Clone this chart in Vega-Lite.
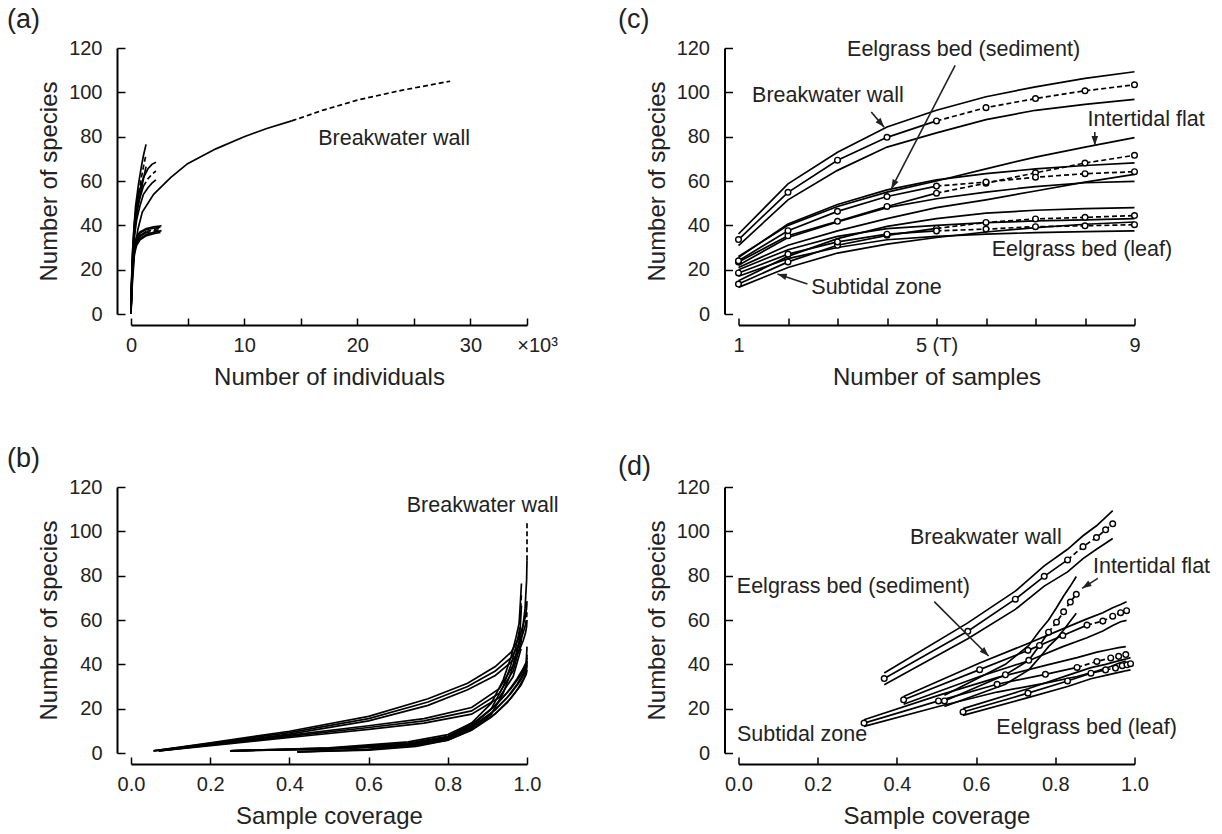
{
  "$schema": "https://vega.github.io/schema/vega-lite/v6.json",
  "padding": {"left": 7, "top": 6, "right": 5, "bottom": 5},
  "columns": 2,
  "bounds": "flush",
  "spacing": {"row": 173, "column": 211.5},
  "config": {
    "view": {"stroke": null},
    "font": "Liberation Sans",
    "axis": {"domainColor": "#000", "domainWidth": 2, "tickColor": "#000", "tickWidth": 1.5, "labelFont": "Liberation Sans", "labelFontSize": 20, "labelColor": "#222", "titleFont": "Liberation Sans", "titleFontSize": 24, "titleFontWeight": "normal", "titleColor": "#222", "grid": false, "labelFlush": false, "labelOverlap": false},
    "axisX": {"offset": 11, "labelPadding": 17, "titlePadding": 10, "tickSize": -7},
    "axisY": {"offset": 14, "labelPadding": 23, "titlePadding": 7, "tickSize": -8},
    "line": {"color": "#000", "strokeWidth": 1.7},
    "text": {"font": "Liberation Sans", "fontSize": 21.5, "color": "#222", "baseline": "middle", "align": "center"},
    "rule": {"color": "#222", "strokeWidth": 1.6},
    "title": {"font": "Liberation Sans", "fontSize": 27, "fontWeight": "normal", "color": "#222", "anchor": "start", "frame": "group", "offset": 4, "baseline": "alphabetic"}
  },
  "datasets": {
    "a": [
      {"h":"BW","e":0,"n":0,"m":0,"u":null,"l":null},
      {"h":"BW","e":0,"n":0.1,"m":12,"u":null,"l":null},
      {"h":"BW","e":0,"n":0.3,"m":27,"u":null,"l":null},
      {"h":"BW","e":0,"n":0.6,"m":38,"u":null,"l":null},
      {"h":"BW","e":0,"n":1.0,"m":46,"u":null,"l":null},
      {"h":"BW","e":0,"n":2.0,"m":54,"u":null,"l":null},
      {"h":"BW","e":0,"n":3.5,"m":61.5,"u":null,"l":null},
      {"h":"BW","e":0,"n":5.0,"m":67.8,"u":null,"l":null},
      {"h":"BW","e":0,"n":7.5,"m":74.5,"u":null,"l":null},
      {"h":"BW","e":0,"n":10,"m":80,"u":null,"l":null},
      {"h":"BW","e":0,"n":12,"m":83.7,"u":null,"l":null},
      {"h":"BW","e":0,"n":14.2,"m":87.1,"u":null,"l":null},
      {"h":"BW","e":1,"n":14.2,"m":87.1,"u":null,"l":null},
      {"h":"BW","e":1,"n":17,"m":92,"u":null,"l":null},
      {"h":"BW","e":1,"n":20,"m":96.5,"u":null,"l":null},
      {"h":"BW","e":1,"n":24,"m":101,"u":null,"l":null},
      {"h":"BW","e":1,"n":28.2,"m":105,"u":null,"l":null},
      {"h":"IF","e":0,"n":0,"m":0,"u":0,"l":0},
      {"h":"IF","e":0,"n":0.03,"m":8,"u":9,"l":7},
      {"h":"IF","e":0,"n":0.08,"m":17,"u":19,"l":15},
      {"h":"IF","e":0,"n":0.15,"m":26,"u":28.5,"l":23.5},
      {"h":"IF","e":0,"n":0.25,"m":35,"u":38,"l":32},
      {"h":"IF","e":0,"n":0.4,"m":45,"u":48.5,"l":41.5},
      {"h":"IF","e":0,"n":0.66,"m":54.5,"u":58.5,"l":50.5},
      {"h":"IF","e":1,"n":0.66,"m":54.5,"u":58.5,"l":50.5},
      {"h":"IF","e":1,"n":0.9,"m":61,"u":66,"l":56},
      {"h":"IF","e":1,"n":1.1,"m":66.5,"u":71.5,"l":61},
      {"h":"IF","e":1,"n":1.33,"m":72,"u":76.5,"l":66.5},
      {"h":"ES","e":0,"n":0,"m":0,"u":0,"l":0},
      {"h":"ES","e":0,"n":0.03,"m":9,"u":10,"l":8},
      {"h":"ES","e":0,"n":0.08,"m":18,"u":20,"l":16},
      {"h":"ES","e":0,"n":0.15,"m":27,"u":29.5,"l":24.5},
      {"h":"ES","e":0,"n":0.3,"m":38,"u":41,"l":35},
      {"h":"ES","e":0,"n":0.5,"m":46,"u":49.5,"l":42.5},
      {"h":"ES","e":0,"n":0.8,"m":52.5,"u":56.5,"l":49},
      {"h":"ES","e":0,"n":1.1,"m":57.7,"u":61.5,"l":54},
      {"h":"ES","e":1,"n":1.1,"m":57.7,"u":61.5,"l":54},
      {"h":"ES","e":1,"n":1.5,"m":61,"u":65.5,"l":57},
      {"h":"ES","e":1,"n":1.85,"m":63,"u":67.5,"l":59},
      {"h":"ES","e":1,"n":2.2,"m":64.5,"u":68.5,"l":60.5},
      {"h":"ST","e":0,"n":0,"m":0,"u":0,"l":0},
      {"h":"ST","e":0,"n":0.03,"m":8,"u":9,"l":7},
      {"h":"ST","e":0,"n":0.08,"m":16,"u":17.5,"l":14.5},
      {"h":"ST","e":0,"n":0.15,"m":23.5,"u":25,"l":22},
      {"h":"ST","e":0,"n":0.3,"m":30,"u":31.5,"l":28.5},
      {"h":"ST","e":0,"n":0.5,"m":33.5,"u":35,"l":32},
      {"h":"ST","e":0,"n":0.8,"m":35.5,"u":37,"l":34},
      {"h":"ST","e":0,"n":1.35,"m":37.2,"u":38.5,"l":35.8},
      {"h":"ST","e":1,"n":1.35,"m":37.2,"u":38.5,"l":35.8},
      {"h":"ST","e":1,"n":2.0,"m":38.1,"u":39.3,"l":36.8},
      {"h":"ST","e":1,"n":2.7,"m":38.8,"u":39.8,"l":37.6},
      {"h":"EL","e":0,"n":0,"m":0,"u":0,"l":0},
      {"h":"EL","e":0,"n":0.03,"m":7,"u":8,"l":6},
      {"h":"EL","e":0,"n":0.08,"m":14,"u":15.5,"l":12.5},
      {"h":"EL","e":0,"n":0.15,"m":21,"u":22.5,"l":19.5},
      {"h":"EL","e":0,"n":0.3,"m":28.5,"u":30,"l":27},
      {"h":"EL","e":0,"n":0.5,"m":32.5,"u":34,"l":31},
      {"h":"EL","e":0,"n":0.8,"m":35,"u":36.5,"l":33.5},
      {"h":"EL","e":0,"n":1.3,"m":36.6,"u":38,"l":35.2},
      {"h":"EL","e":1,"n":1.3,"m":36.6,"u":38,"l":35.2},
      {"h":"EL","e":1,"n":2.0,"m":37.4,"u":38.7,"l":36.2},
      {"h":"EL","e":1,"n":2.6,"m":38,"u":39.2,"l":36.8}
    ],
    "b": [
      {"h":"BW","e":0,"c":0.07,"m":1,"u":1,"l":1},
      {"h":"BW","e":0,"c":0.25,"m":4.5,"u":4.8,"l":4.2},
      {"h":"BW","e":0,"c":0.45,"m":8.5,"u":9.1,"l":7.9},
      {"h":"BW","e":0,"c":0.6,"m":11.5,"u":12.3,"l":10.7},
      {"h":"BW","e":0,"c":0.74,"m":14.5,"u":15.5,"l":13.5},
      {"h":"BW","e":0,"c":0.86,"m":19,"u":20.5,"l":17.5},
      {"h":"BW","e":0,"c":0.93,"m":27,"u":29,"l":25},
      {"h":"BW","e":0,"c":0.965,"m":37,"u":39.5,"l":34.5},
      {"h":"BW","e":0,"c":0.985,"m":50,"u":53,"l":47},
      {"h":"BW","e":0,"c":0.995,"m":65,"u":null,"l":null},
      {"h":"BW","e":0,"c":0.999,"m":78,"u":null,"l":null},
      {"h":"BW","e":0,"c":1.0,"m":87,"u":null,"l":null},
      {"h":"BW","e":1,"c":1.0,"m":87,"u":null,"l":null},
      {"h":"BW","e":1,"c":1.0,"m":105,"u":null,"l":null},
      {"h":"ES","e":0,"c":0.057,"m":1,"u":1,"l":1},
      {"h":"ES","e":0,"c":0.2,"m":4.3,"u":4.6,"l":4},
      {"h":"ES","e":0,"c":0.4,"m":9.2,"u":9.8,"l":8.5},
      {"h":"ES","e":0,"c":0.6,"m":15.5,"u":16.5,"l":14.5},
      {"h":"ES","e":0,"c":0.75,"m":23,"u":24.5,"l":21.5},
      {"h":"ES","e":0,"c":0.85,"m":30,"u":31.5,"l":28.5},
      {"h":"ES","e":0,"c":0.92,"m":37,"u":39,"l":35},
      {"h":"ES","e":0,"c":0.96,"m":43,"u":45.5,"l":41},
      {"h":"ES","e":0,"c":0.98,"m":49,"u":52,"l":46},
      {"h":"ES","e":0,"c":0.99,"m":54,"u":57.5,"l":50.5},
      {"h":"ES","e":0,"c":0.996,"m":57.7,"u":61.5,"l":54},
      {"h":"ES","e":1,"c":0.996,"m":57.7,"u":61.5,"l":54},
      {"h":"ES","e":1,"c":0.999,"m":61,"u":65.5,"l":57},
      {"h":"ES","e":1,"c":1.0,"m":64.2,"u":68.5,"l":60},
      {"h":"IF","e":0,"c":0.25,"m":1,"u":1,"l":1},
      {"h":"IF","e":0,"c":0.5,"m":2,"u":2.2,"l":1.8},
      {"h":"IF","e":0,"c":0.7,"m":3.5,"u":4,"l":3},
      {"h":"IF","e":0,"c":0.8,"m":6.5,"u":7.2,"l":5.8},
      {"h":"IF","e":0,"c":0.86,"m":12,"u":13.5,"l":10.5},
      {"h":"IF","e":0,"c":0.91,"m":20,"u":22.5,"l":17.5},
      {"h":"IF","e":0,"c":0.94,"m":30,"u":33,"l":27},
      {"h":"IF","e":0,"c":0.96,"m":40,"u":43.5,"l":36.5},
      {"h":"IF","e":0,"c":0.972,"m":48,"u":52,"l":44},
      {"h":"IF","e":0,"c":0.98,"m":54.5,"u":58.5,"l":50.5},
      {"h":"IF","e":1,"c":0.98,"m":54.5,"u":58.5,"l":50.5},
      {"h":"IF","e":1,"c":0.983,"m":62,"u":67,"l":57},
      {"h":"IF","e":1,"c":0.986,"m":72,"u":76.5,"l":66.5},
      {"h":"EL","e":0,"c":0.25,"m":1,"u":1,"l":1},
      {"h":"EL","e":0,"c":0.5,"m":2,"u":2.3,"l":1.7},
      {"h":"EL","e":0,"c":0.7,"m":4.5,"u":5,"l":4},
      {"h":"EL","e":0,"c":0.8,"m":7.5,"u":8.3,"l":6.7},
      {"h":"EL","e":0,"c":0.87,"m":13,"u":14.3,"l":11.7},
      {"h":"EL","e":0,"c":0.92,"m":19.5,"u":21.3,"l":17.7},
      {"h":"EL","e":0,"c":0.96,"m":27,"u":29.2,"l":24.8},
      {"h":"EL","e":0,"c":0.985,"m":33,"u":35.3,"l":30.7},
      {"h":"EL","e":0,"c":0.998,"m":37.5,"u":39.5,"l":35.5},
      {"h":"EL","e":1,"c":0.998,"m":37.5,"u":39.5,"l":35.5},
      {"h":"EL","e":1,"c":1.0,"m":40.3,"u":43,"l":37.5},
      {"h":"ST","e":0,"c":0.42,"m":0.5,"u":0.5,"l":0.5},
      {"h":"ST","e":0,"c":0.6,"m":1.5,"u":1.7,"l":1.3},
      {"h":"ST","e":0,"c":0.72,"m":3.5,"u":4,"l":3},
      {"h":"ST","e":0,"c":0.8,"m":6.5,"u":7.2,"l":5.8},
      {"h":"ST","e":0,"c":0.86,"m":11.5,"u":12.7,"l":10.3},
      {"h":"ST","e":0,"c":0.91,"m":18,"u":19.8,"l":16.2},
      {"h":"ST","e":0,"c":0.95,"m":25,"u":27.3,"l":22.7},
      {"h":"ST","e":0,"c":0.975,"m":31,"u":33.5,"l":28.5},
      {"h":"ST","e":0,"c":0.99,"m":35.5,"u":38,"l":33},
      {"h":"ST","e":0,"c":0.998,"m":38.6,"u":41,"l":36.2},
      {"h":"ST","e":1,"c":0.998,"m":38.6,"u":41,"l":36.2},
      {"h":"ST","e":1,"c":1.0,"m":44.4,"u":48,"l":41.5}
    ],
    "cd": [
      {"h":"BW","s":1,"cov":0.368,"m":33.6,"u":36.1,"l":30.8},
      {"h":"BW","s":2,"cov":0.579,"m":54.9,"u":58.7,"l":51.5},
      {"h":"BW","s":3,"cov":0.699,"m":69.4,"u":73.0,"l":64.8},
      {"h":"BW","s":4,"cov":0.772,"m":79.7,"u":84.4,"l":75.3},
      {"h":"BW","s":5,"cov":0.831,"m":87.1,"u":91.9,"l":81.7},
      {"h":"BW","s":6,"cov":0.870,"m":93.1,"u":98.0,"l":87.7},
      {"h":"BW","s":7,"cov":0.904,"m":97.2,"u":102.5,"l":91.9},
      {"h":"BW","s":8,"cov":0.927,"m":100.7,"u":106.3,"l":94.6},
      {"h":"BW","s":9,"cov":0.945,"m":103.4,"u":109.3,"l":96.8},
      {"h":"IF","s":1,"cov":0.520,"m":23.5,"u":26,"l":21},
      {"h":"IF","s":2,"cov":0.674,"m":35.3,"u":40,"l":31},
      {"h":"IF","s":3,"cov":0.733,"m":41.8,"u":48.5,"l":37.5},
      {"h":"IF","s":4,"cov":0.760,"m":48.5,"u":55,"l":43},
      {"h":"IF","s":5,"cov":0.783,"m":54.5,"u":60,"l":48},
      {"h":"IF","s":6,"cov":0.803,"m":59,"u":65.5,"l":51.5},
      {"h":"IF","s":7,"cov":0.821,"m":63.7,"u":70.8,"l":55.5},
      {"h":"IF","s":8,"cov":0.838,"m":68.1,"u":75.3,"l":59.5},
      {"h":"IF","s":9,"cov":0.853,"m":71.6,"u":79.6,"l":63},
      {"h":"ES","s":1,"cov":0.417,"m":24,"u":25.5,"l":22},
      {"h":"ES","s":2,"cov":0.609,"m":37.6,"u":40.6,"l":34.5},
      {"h":"ES","s":3,"cov":0.731,"m":46.3,"u":49.4,"l":41.5},
      {"h":"ES","s":4,"cov":0.819,"m":53,"u":56,"l":48},
      {"h":"ES","s":5,"cov":0.880,"m":57.7,"u":60.5,"l":52},
      {"h":"ES","s":6,"cov":0.920,"m":59.5,"u":63.3,"l":55},
      {"h":"ES","s":7,"cov":0.945,"m":61.7,"u":65.5,"l":57.5},
      {"h":"ES","s":8,"cov":0.965,"m":63.3,"u":67,"l":59.2},
      {"h":"ES","s":9,"cov":0.980,"m":64.2,"u":68.2,"l":59.8},
      {"h":"ST","s":1,"cov":0.317,"m":13.5,"u":15,"l":12},
      {"h":"ST","s":2,"cov":0.505,"m":23.5,"u":26,"l":21},
      {"h":"ST","s":3,"cov":0.653,"m":31,"u":34,"l":27.5},
      {"h":"ST","s":4,"cov":0.775,"m":35.5,"u":39.5,"l":31.5},
      {"h":"ST","s":5,"cov":0.855,"m":38.6,"u":43,"l":34.5},
      {"h":"ST","s":6,"cov":0.905,"m":41.3,"u":45.5,"l":37},
      {"h":"ST","s":7,"cov":0.940,"m":42.9,"u":46.8,"l":39},
      {"h":"ST","s":8,"cov":0.960,"m":43.6,"u":47.5,"l":40.5},
      {"h":"ST","s":9,"cov":0.978,"m":44.4,"u":48,"l":41.5},
      {"h":"EL","s":1,"cov":0.567,"m":18.5,"u":20,"l":17},
      {"h":"EL","s":2,"cov":0.731,"m":27,"u":29,"l":25},
      {"h":"EL","s":3,"cov":0.831,"m":32.5,"u":35,"l":30},
      {"h":"EL","s":4,"cov":0.890,"m":36,"u":38.5,"l":33.5},
      {"h":"EL","s":5,"cov":0.927,"m":37.5,"u":40,"l":35},
      {"h":"EL","s":6,"cov":0.952,"m":38.3,"u":41.2,"l":36},
      {"h":"EL","s":7,"cov":0.969,"m":39.4,"u":42,"l":36.7},
      {"h":"EL","s":8,"cov":0.981,"m":39.8,"u":42.5,"l":37.2},
      {"h":"EL","s":9,"cov":0.990,"m":40.3,"u":43,"l":37.5}
    ],
    "ta": [{"t":"Breakwater wall","x":23.25,"y":78.75}],
    "tb": [{"t":"Breakwater wall","x":0.888,"y":111.5}],
    "tc": [
      {"t":"Eelgrass bed (sediment)","x":5.547,"y":118.96},
      {"t":"Breakwater wall","x":2.808,"y":98.4},
      {"t":"Intertidal flat","x":9.234,"y":87.3},
      {"t":"Eelgrass bed (leaf)","x":7.938,"y":28.8},
      {"t":"Subtidal zone","x":3.787,"y":11.66}
    ],
    "td": [
      {"t":"Breakwater wall","x":0.6245,"y":97.0},
      {"t":"Intertidal flat","x":1.043,"y":84.1},
      {"t":"Eelgrass bed (sediment)","x":0.290,"y":74.7},
      {"t":"Subtidal zone","x":0.1605,"y":8.1},
      {"t":"Eelgrass bed (leaf)","x":0.879,"y":11.3}
    ],
    "arc": [
      {"id":"a1","x":3.682,"y":91.09,"x2":3.941,"y2":84.31},
      {"id":"a2","x":5.377,"y":112.2,"x2":4.087,"y2":56.48},
      {"id":"a3","x":8.198,"y":82.05,"x2":8.198,"y2":76.04},
      {"id":"a4","x":2.392,"y":13.55,"x2":1.787,"y2":18.07}
    ],
    "ard": [
      {"id":"a5","x":0.4943,"y":68.26,"x2":0.6316,"y2":43.76},
      {"id":"a6","x":0.9072,"y":78.81,"x2":0.8678,"y2":74.3}
    ]
  },
  "concat": [
    {
      "width": 396, "height": 266,
      "title": {"text": "(a)", "dx": -124},
      "encoding": {
        "x": {"field": "n", "type": "quantitative", "title": "Number of individuals", "scale": {"domain": [0, 35], "nice": false},
              "axis": {"values": [0,5,10,15,20,25,30,35], "labelExpr": "datum.value == 35 ? '×10³' : (datum.value % 10 == 0 ? datum.label : '')", "labelOffset": {"condition": {"test": "datum.value == 35", "value": 10}, "value": 0}}}
      },
      "layer": [
        {"data": {"name": "a"}, "transform": [{"filter": "datum.e == 0"}], "mark": {"type": "line"},
         "encoding": {"y": {"field": "m", "type": "quantitative", "title": "Number of species", "scale": {"domain": [0, 120], "nice": false}, "axis": {"values": [0,20,40,60,80,100,120]}}, "detail": {"field": "h"}, "order": {"field": "n"}}},
        {"data": {"name": "a"}, "transform": [{"filter": "datum.e == 1"}], "mark": {"type": "line", "strokeDash": [5, 3]},
         "encoding": {"y": {"field": "m", "type": "quantitative", "title": "Number of species"}, "detail": {"field": "h"}, "order": {"field": "n"}}},
        {"data": {"name": "a"}, "mark": {"type": "line"},
         "encoding": {"y": {"field": "u", "type": "quantitative", "title": "Number of species"}, "detail": {"field": "h"}, "order": {"field": "n"}}},
        {"data": {"name": "a"}, "mark": {"type": "line"},
         "encoding": {"y": {"field": "l", "type": "quantitative", "title": "Number of species"}, "detail": {"field": "h"}, "order": {"field": "n"}}},
        {"data": {"name": "ta"}, "mark": {"type": "text"},
         "encoding": {"x": {"field": "x", "type": "quantitative", "title": "Number of individuals"}, "y": {"field": "y", "type": "quantitative", "title": "Number of species"}, "text": {"field": "t"}}}
      ]
    },
    {
      "width": 396, "height": 266,
      "title": {"text": "(c)", "dx": -120.5},
      "encoding": {
        "x": {"field": "s", "type": "quantitative", "title": "Number of samples", "scale": {"domain": [1, 9], "nice": false, "zero": false},
              "axis": {"values": [1,2,3,4,5,6,7,8,9], "labelExpr": "datum.value == 5 ? '5 (T)' : (datum.value == 1 || datum.value == 9 ? datum.label : '')"}}
      },
      "layer": [
        {"data": {"name": "cd"}, "mark": {"type": "line"},
         "encoding": {"y": {"field": "u", "type": "quantitative", "title": "Number of species", "scale": {"domain": [0, 120], "nice": false}, "axis": {"values": [0,20,40,60,80,100,120]}}, "detail": {"field": "h"}, "order": {"field": "s"}}},
        {"data": {"name": "cd"}, "mark": {"type": "line"},
         "encoding": {"y": {"field": "l", "type": "quantitative", "title": "Number of species"}, "detail": {"field": "h"}, "order": {"field": "s"}}},
        {"data": {"name": "cd"}, "transform": [{"filter": "datum.s <= 5"}], "mark": {"type": "line"},
         "encoding": {"y": {"field": "m", "type": "quantitative", "title": "Number of species"}, "detail": {"field": "h"}, "order": {"field": "s"}}},
        {"data": {"name": "cd"}, "transform": [{"filter": "datum.s >= 5"}], "mark": {"type": "line", "strokeDash": [5, 3]},
         "encoding": {"y": {"field": "m", "type": "quantitative", "title": "Number of species"}, "detail": {"field": "h"}, "order": {"field": "s"}}},
        {"data": {"name": "cd"}, "mark": {"type": "point", "shape": "circle", "filled": false, "fill": "#fff", "fillOpacity": 1, "stroke": "#000", "strokeWidth": 1.4, "size": 32, "opacity": 1},
         "encoding": {"y": {"field": "m", "type": "quantitative", "title": "Number of species"}}},
        {"data": {"name": "arc"}, "mark": {"type": "rule"},
         "encoding": {"x": {"field": "x", "type": "quantitative", "title": "Number of samples"}, "y": {"field": "y", "type": "quantitative", "title": "Number of species"}, "x2": {"field": "x2"}, "y2": {"field": "y2"}}},
        {"data": {"name": "arc"}, "transform": [{"filter": {"field": "id", "equal": "a1"}}], "mark": {"type": "point", "shape": "M0,0L0.35,1L-0.35,1Z", "filled": true, "color": "#222", "size": 350, "angle": 139.5, "opacity": 1},
         "encoding": {"x": {"field": "x2", "type": "quantitative", "title": "Number of samples"}, "y": {"field": "y2", "type": "quantitative", "title": "Number of species"}}},
        {"data": {"name": "arc"}, "transform": [{"filter": {"field": "id", "equal": "a2"}}], "mark": {"type": "point", "shape": "M0,0L0.35,1L-0.35,1Z", "filled": true, "color": "#222", "size": 350, "angle": 207.4, "opacity": 1},
         "encoding": {"x": {"field": "x2", "type": "quantitative", "title": "Number of samples"}, "y": {"field": "y2", "type": "quantitative", "title": "Number of species"}}},
        {"data": {"name": "arc"}, "transform": [{"filter": {"field": "id", "equal": "a3"}}], "mark": {"type": "point", "shape": "M0,0L0.35,1L-0.35,1Z", "filled": true, "color": "#222", "size": 350, "angle": 180, "opacity": 1},
         "encoding": {"x": {"field": "x2", "type": "quantitative", "title": "Number of samples"}, "y": {"field": "y2", "type": "quantitative", "title": "Number of species"}}},
        {"data": {"name": "arc"}, "transform": [{"filter": {"field": "id", "equal": "a4"}}], "mark": {"type": "point", "shape": "M0,0L0.35,1L-0.35,1Z", "filled": true, "color": "#222", "size": 350, "angle": 288.5, "opacity": 1},
         "encoding": {"x": {"field": "x2", "type": "quantitative", "title": "Number of samples"}, "y": {"field": "y2", "type": "quantitative", "title": "Number of species"}}},
        {"data": {"name": "tc"}, "mark": {"type": "text"},
         "encoding": {"x": {"field": "x", "type": "quantitative", "title": "Number of samples"}, "y": {"field": "y", "type": "quantitative", "title": "Number of species"}, "text": {"field": "t"}}}
      ]
    },
    {
      "width": 396, "height": 266,
      "title": {"text": "(b)", "dx": -124},
      "encoding": {
        "x": {"field": "c", "type": "quantitative", "title": "Sample coverage", "scale": {"domain": [0, 1], "nice": false},
              "axis": {"values": [0,0.2,0.4,0.6,0.8,1.0], "format": ".1f"}}
      },
      "layer": [
        {"data": {"name": "b"}, "transform": [{"filter": "datum.e == 0"}], "mark": {"type": "line"},
         "encoding": {"y": {"field": "m", "type": "quantitative", "title": "Number of species", "scale": {"domain": [0, 120], "nice": false}, "axis": {"values": [0,20,40,60,80,100,120]}}, "detail": {"field": "h"}, "order": {"field": "m"}}},
        {"data": {"name": "b"}, "transform": [{"filter": "datum.e == 1"}], "mark": {"type": "line", "strokeDash": [5, 3]},
         "encoding": {"y": {"field": "m", "type": "quantitative", "title": "Number of species"}, "detail": {"field": "h"}, "order": {"field": "m"}}},
        {"data": {"name": "b"}, "mark": {"type": "line"},
         "encoding": {"y": {"field": "u", "type": "quantitative", "title": "Number of species"}, "detail": {"field": "h"}, "order": {"field": "u"}}},
        {"data": {"name": "b"}, "mark": {"type": "line"},
         "encoding": {"y": {"field": "l", "type": "quantitative", "title": "Number of species"}, "detail": {"field": "h"}, "order": {"field": "l"}}},
        {"data": {"name": "tb"}, "mark": {"type": "text"},
         "encoding": {"x": {"field": "x", "type": "quantitative", "title": "Sample coverage"}, "y": {"field": "y", "type": "quantitative", "title": "Number of species"}, "text": {"field": "t"}}}
      ]
    },
    {
      "width": 396, "height": 266,
      "title": {"text": "(d)", "dx": -120.5, "offset": -4},
      "encoding": {
        "x": {"field": "cov", "type": "quantitative", "title": "Sample coverage", "scale": {"domain": [0, 1], "nice": false},
              "axis": {"values": [0,0.2,0.4,0.6,0.8,1.0], "format": ".1f"}}
      },
      "layer": [
        {"data": {"name": "cd"}, "mark": {"type": "line"},
         "encoding": {"y": {"field": "u", "type": "quantitative", "title": "Number of species", "scale": {"domain": [0, 120], "nice": false}, "axis": {"values": [0,20,40,60,80,100,120]}}, "detail": {"field": "h"}, "order": {"field": "s"}}},
        {"data": {"name": "cd"}, "mark": {"type": "line"},
         "encoding": {"y": {"field": "l", "type": "quantitative", "title": "Number of species"}, "detail": {"field": "h"}, "order": {"field": "s"}}},
        {"data": {"name": "cd"}, "transform": [{"filter": "datum.s <= 5"}], "mark": {"type": "line"},
         "encoding": {"y": {"field": "m", "type": "quantitative", "title": "Number of species"}, "detail": {"field": "h"}, "order": {"field": "s"}}},
        {"data": {"name": "cd"}, "transform": [{"filter": "datum.s >= 5"}], "mark": {"type": "line", "strokeDash": [5, 3]},
         "encoding": {"y": {"field": "m", "type": "quantitative", "title": "Number of species"}, "detail": {"field": "h"}, "order": {"field": "s"}}},
        {"data": {"name": "cd"}, "mark": {"type": "point", "shape": "circle", "filled": false, "fill": "#fff", "fillOpacity": 1, "stroke": "#000", "strokeWidth": 1.4, "size": 32, "opacity": 1},
         "encoding": {"y": {"field": "m", "type": "quantitative", "title": "Number of species"}}},
        {"data": {"name": "ard"}, "mark": {"type": "rule"},
         "encoding": {"x": {"field": "x", "type": "quantitative", "title": "Sample coverage"}, "y": {"field": "y", "type": "quantitative", "title": "Number of species"}, "x2": {"field": "x2"}, "y2": {"field": "y2"}}},
        {"data": {"name": "ard"}, "transform": [{"filter": {"field": "id", "equal": "a5"}}], "mark": {"type": "point", "shape": "M0,0L0.35,1L-0.35,1Z", "filled": true, "color": "#222", "size": 350, "angle": 135, "opacity": 1},
         "encoding": {"x": {"field": "x2", "type": "quantitative", "title": "Sample coverage"}, "y": {"field": "y2", "type": "quantitative", "title": "Number of species"}}},
        {"data": {"name": "ard"}, "transform": [{"filter": {"field": "id", "equal": "a6"}}], "mark": {"type": "point", "shape": "M0,0L0.35,1L-0.35,1Z", "filled": true, "color": "#222", "size": 350, "angle": 237.3, "opacity": 1},
         "encoding": {"x": {"field": "x2", "type": "quantitative", "title": "Sample coverage"}, "y": {"field": "y2", "type": "quantitative", "title": "Number of species"}}},
        {"data": {"name": "td"}, "mark": {"type": "text"},
         "encoding": {"x": {"field": "x", "type": "quantitative", "title": "Sample coverage"}, "y": {"field": "y", "type": "quantitative", "title": "Number of species"}, "text": {"field": "t"}}}
      ]
    }
  ]
}
